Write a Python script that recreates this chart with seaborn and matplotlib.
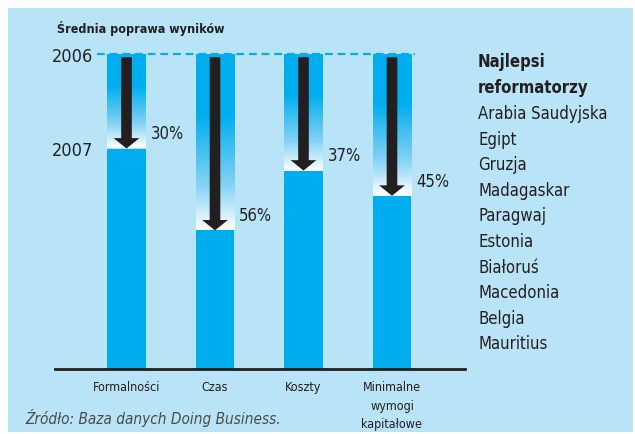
import matplotlib
matplotlib.use("Agg")
import matplotlib.pyplot as plt
import numpy as np
import pandas as pd
import seaborn as sns
from matplotlib.colors import LinearSegmentedColormap
from matplotlib.patches import Rectangle

sns.set_theme(style="white")
plt.rcParams['font.family'] = ['DejaVu Sans']
plt.rcParams['font.stretch'] = 'condensed'

categories = ["Formalności", "Czas", "Koszty", "Minimalne\nwymogi\nkapitałowe"]
improvement_pct = [30, 56, 37, 45]
year_labels = ["2006", "2007"]
title = "Średnia poprawa wyników"
reformers_title = "Najlepsi\nreformatorzy"
reformers = ["Arabia Saudyjska", "Egipt", "Gruzja", "Madagaskar", "Paragwaj",
             "Estonia", "Białoruś", "Macedonia", "Belgia", "Mauritius"]
source = "Źródło: Baza danych Doing Business."

BLUE = "#00aeef"
BG = "#b9e4f8"
DARK = "#231f20"

remaining = [100 - p for p in improvement_pct]
df = pd.DataFrame({"cat": categories, "val": remaining})

W, H = 635, 435
fig = plt.figure(figsize=(W / 100, H / 100), dpi=100, facecolor="white")
fig.patches.append(Rectangle((8 / W, 2 / H), (W - 10) / W, (H - 11) / H,
                             transform=fig.transFigure, facecolor=BG,
                             edgecolor="none", zorder=-10))

def px(x, y):
    return x / W, 1 - y / H

left, right, top, base = 55, 465, 55, 370
ax = fig.add_axes([left / W, (H - base) / H, (right - left) / W, (base - top) / H])
ax.set_facecolor("none")

bw = 0.44
sns.barplot(data=df, x="cat", y="val", ax=ax, color=BLUE, saturation=1,
            width=bw, edgecolor="none")
ax.set_xlim(-0.808, 3.825)
ax.set_ylim(0, 100)

cmap = LinearSegmentedColormap.from_list(
    "fade", [(0, BLUE), (0.35, BLUE), (0.75, "#86d3f4"), (1.0, "#ffffff")])
grad = np.linspace(0, 1, 256).reshape(-1, 1)
for i, v in enumerate(remaining):
    ax.imshow(grad, cmap=cmap, aspect="auto", origin="upper",
              extent=(i - bw / 2, i + bw / 2, v, 100), zorder=2,
              interpolation="bilinear")
    ax.arrow(i, 99, 0, -(99 - v), width=0.12, head_width=0.29,
             head_length=3.3, length_includes_head=True, color=DARK,
             zorder=4, linewidth=0)
    ax.text(i + bw / 2 + 0.05, v + 4.8, f"{improvement_pct[i]}%", fontsize=12,
            color=DARK, va="center", ha="left")

ax.axhline(100, xmin=(97 - left) / (right - left), xmax=(415 - left) / (right - left),
           color=BLUE, lw=1.6, ls=(0, (3.5, 2.2)), clip_on=False, zorder=3)

for s in ["top", "right", "left"]:
    ax.spines[s].set_visible(False)
ax.spines["bottom"].set_color(DARK)
ax.spines["bottom"].set_linewidth(2)
ax.set_yticks([100, remaining[0]])
ax.set_yticklabels(year_labels, fontsize=13, color=DARK)
ax.tick_params(axis="y", length=0, pad=-27.4)
ax.set_xticks(range(len(categories)))
ax.set_xticklabels(categories, fontsize=9, color=DARK, linespacing=1.55)
ax.tick_params(axis="x", length=0, pad=8)
ax.set_xlabel("")
ax.set_ylabel("")

fig.text(*px(57, 28), title, fontsize=9, fontweight="bold", color=DARK,
         va="center", ha="left")
fig.text(*px(478, 75), reformers_title, fontsize=12, fontweight="bold",
         color=DARK, va="center", ha="left", linespacing=1.6)
for j, name in enumerate(reformers):
    fig.text(*px(478, 114 + j * 25.6), name, fontsize=12, color=DARK,
             va="center", ha="left")
fig.text(*px(25, 418), source, fontsize=11, style="italic", color="#4a4a4a",
         va="center", ha="left")

fig.savefig("out.png", dpi=100, facecolor="white")
